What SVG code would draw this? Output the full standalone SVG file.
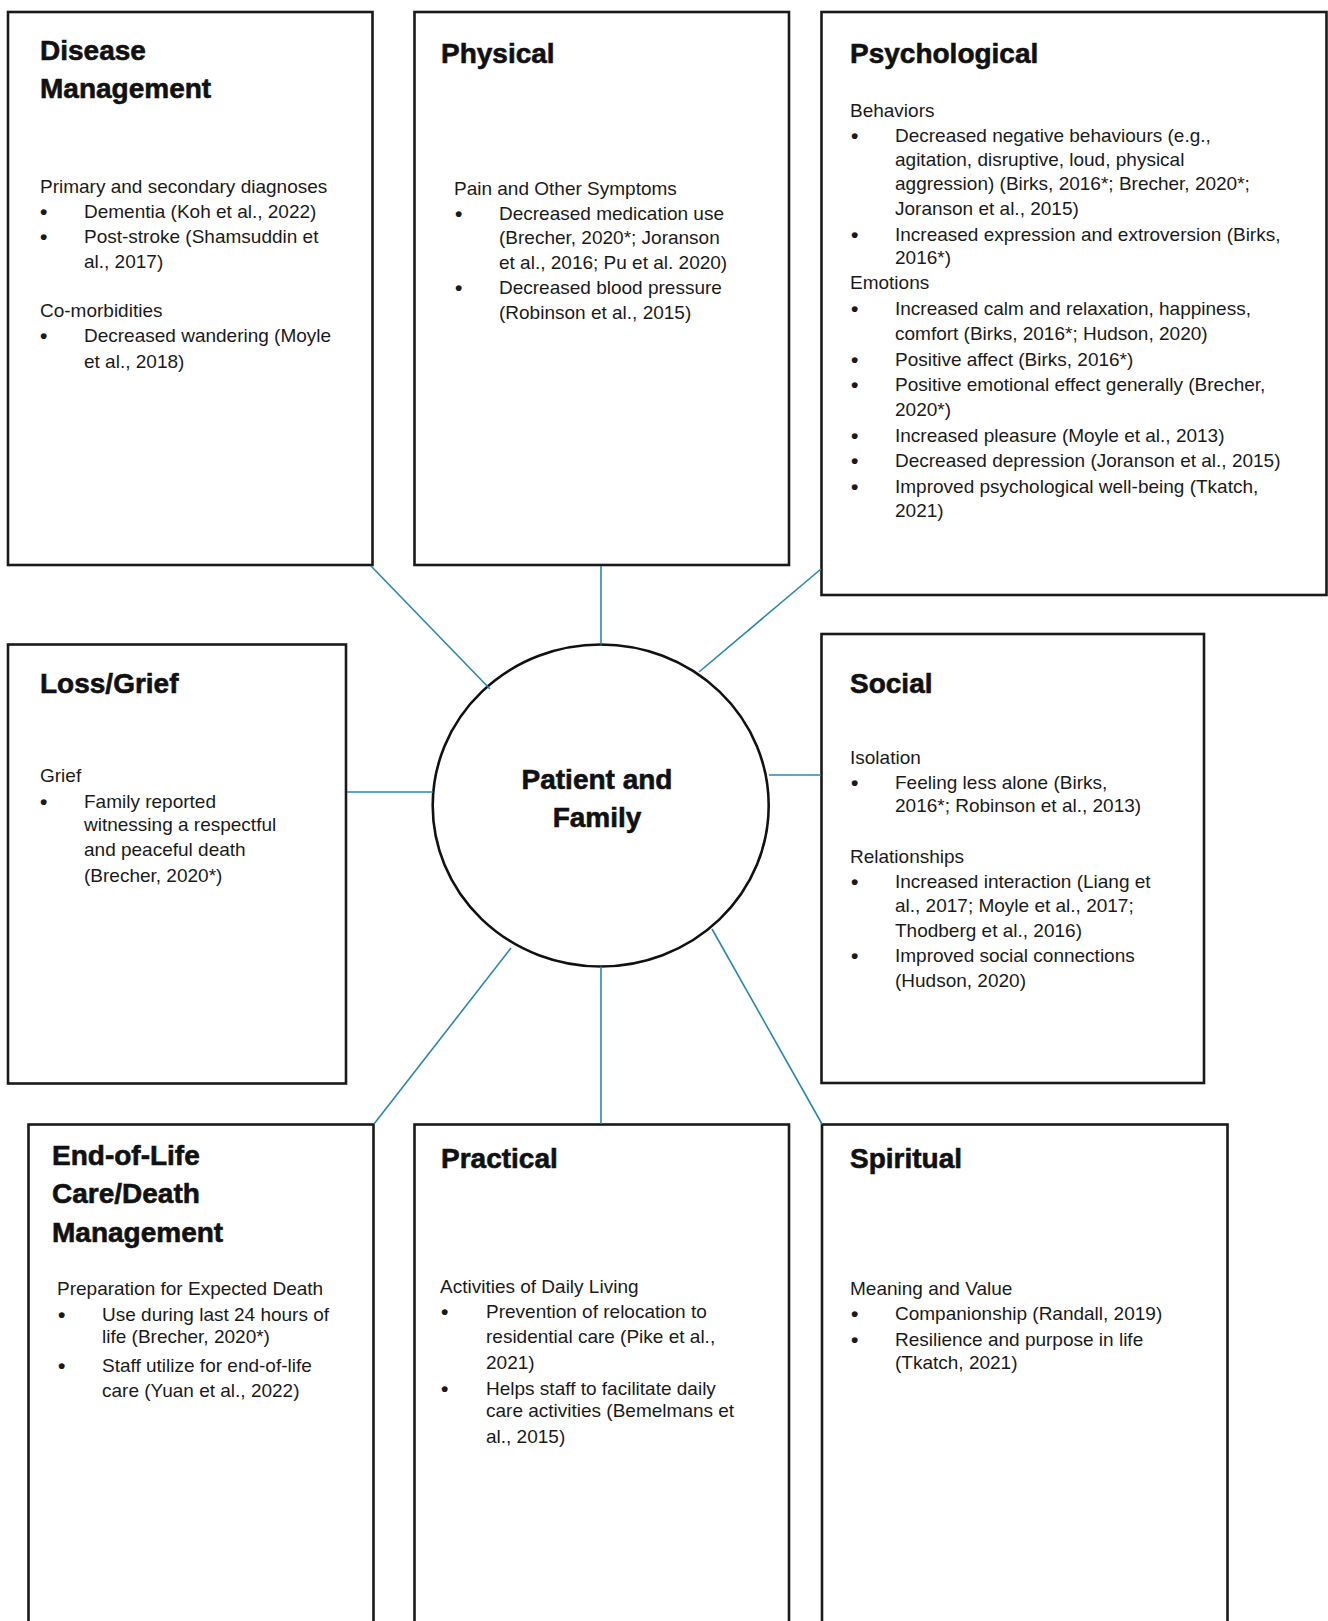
<svg xmlns="http://www.w3.org/2000/svg" width="1328" height="1621" viewBox="0 0 1328 1621">
<style>
.box{fill:#fff;stroke:#1a1a1a;stroke-width:2.6}
.hub{fill:#fff;stroke:#111;stroke-width:2.6}
.t{font-family:"Liberation Sans",Arial,sans-serif;font-weight:bold;font-size:28px;fill:#111;stroke:#111;stroke-width:0.6}
.b{font-family:"Liberation Sans",Arial,sans-serif;font-size:19px;fill:#1a1a1a}
.d{font-family:"Liberation Sans",Arial,sans-serif;font-size:21px;font-weight:bold;fill:#1a1a1a}
.c{font-family:"Liberation Sans",Arial,sans-serif;font-weight:bold;font-size:28px;fill:#111;stroke:#111;stroke-width:0.6;text-anchor:middle}
.con{stroke:#2a86ad;stroke-width:1.6;fill:none}
</style>
<rect width="1328" height="1621" fill="#fff"/>

<g id="disease-management">
<rect class="box" x="8" y="12" width="364.5" height="553"/>
<text class="t" x="40" y="60">Disease</text>
<text class="t" x="40" y="98">Management</text>
<text class="b" x="40" y="193">Primary and secondary diagnoses</text>
<text class="d" x="40" y="219">•</text><text class="b" x="84" y="218">Dementia (Koh et al., 2022)</text>
<text class="d" x="40" y="244">•</text><text class="b" x="84" y="243">Post-stroke (Shamsuddin et</text>
<text class="b" x="84" y="268">al., 2017)</text>
<text class="b" x="40" y="317">Co-morbidities</text>
<text class="d" x="40" y="343">•</text><text class="b" x="84" y="342">Decreased wandering (Moyle</text>
<text class="b" x="84" y="368">et al., 2018)</text>
</g>

<g id="physical">
<rect class="box" x="414.5" y="12" width="374.5" height="553"/>
<text class="t" x="441" y="63">Physical</text>
<text class="b" x="454" y="195">Pain and Other Symptoms</text>
<text class="d" x="455" y="221">•</text><text class="b" x="499" y="220">Decreased medication use</text>
<text class="b" x="499" y="244">(Brecher, 2020*; Joranson</text>
<text class="b" x="499" y="269">et al., 2016; Pu et al. 2020)</text>
<text class="d" x="455" y="295">•</text><text class="b" x="499" y="294">Decreased blood pressure</text>
<text class="b" x="499" y="319">(Robinson et al., 2015)</text>
</g>

<g id="psychological">
<rect class="box" x="821.5" y="12" width="505" height="583"/>
<text class="t" x="850" y="63">Psychological</text>
<text class="b" x="850" y="117">Behaviors</text>
<text class="d" x="851" y="143">•</text><text class="b" x="895" y="142">Decreased negative behaviours (e.g.,</text>
<text class="b" x="895" y="166">agitation, disruptive, loud, physical</text>
<text class="b" x="895" y="190">aggression) (Birks, 2016*; Brecher, 2020*;</text>
<text class="b" x="895" y="215">Joranson et al., 2015)</text>
<text class="d" x="851" y="242">•</text><text class="b" x="895" y="241">Increased expression and extroversion (Birks,</text>
<text class="b" x="895" y="264">2016*)</text>
<text class="b" x="850" y="289">Emotions</text>
<text class="d" x="851" y="316">•</text><text class="b" x="895" y="315">Increased calm and relaxation, happiness,</text>
<text class="b" x="895" y="340">comfort (Birks, 2016*; Hudson, 2020)</text>
<text class="d" x="851" y="367">•</text><text class="b" x="895" y="366">Positive affect (Birks, 2016*)</text>
<text class="d" x="851" y="392">•</text><text class="b" x="895" y="391">Positive emotional effect generally (Brecher,</text>
<text class="b" x="895" y="416">2020*)</text>
<text class="d" x="851" y="443">•</text><text class="b" x="895" y="442">Increased pleasure (Moyle et al., 2013)</text>
<text class="d" x="851" y="468">•</text><text class="b" x="895" y="467">Decreased depression (Joranson et al., 2015)</text>
<text class="d" x="851" y="494">•</text><text class="b" x="895" y="493">Improved psychological well-being (Tkatch,</text>
<text class="b" x="895" y="517">2021)</text>
</g>

<g id="loss-grief">
<rect class="box" x="8" y="644.5" width="338" height="439"/>
<text class="t" x="40" y="693">Loss/Grief</text>
<text class="b" x="40" y="782">Grief</text>
<text class="d" x="40" y="809">•</text><text class="b" x="84" y="808">Family reported</text>
<text class="b" x="84" y="831">witnessing a respectful</text>
<text class="b" x="84" y="856">and peaceful death</text>
<text class="b" x="84" y="882">(Brecher, 2020*)</text>
</g>

<g id="social">
<rect class="box" x="821.5" y="634" width="382.5" height="449"/>
<text class="t" x="850" y="693">Social</text>
<text class="b" x="850" y="764">Isolation</text>
<text class="d" x="851" y="790">•</text><text class="b" x="895" y="789">Feeling less alone (Birks,</text>
<text class="b" x="895" y="812">2016*; Robinson et al., 2013)</text>
<text class="b" x="850" y="863">Relationships</text>
<text class="d" x="851" y="889">•</text><text class="b" x="895" y="888">Increased interaction (Liang et</text>
<text class="b" x="895" y="912">al., 2017; Moyle et al., 2017;</text>
<text class="b" x="895" y="937">Thodberg et al., 2016)</text>
<text class="d" x="851" y="963">•</text><text class="b" x="895" y="962">Improved social connections</text>
<text class="b" x="895" y="987">(Hudson, 2020)</text>
</g>

<g id="end-of-life">
<rect class="box" x="28.5" y="1124.5" width="345" height="510"/>
<text class="t" x="52" y="1165">End-of-Life</text>
<text class="t" x="52" y="1203">Care/Death</text>
<text class="t" x="52" y="1242">Management</text>
<text class="b" x="57" y="1295">Preparation for Expected Death</text>
<text class="d" x="58" y="1322">•</text><text class="b" x="102" y="1321">Use during last 24 hours of</text>
<text class="b" x="102" y="1343">life (Brecher, 2020*)</text>
<text class="d" x="58" y="1373">•</text><text class="b" x="102" y="1372">Staff utilize for end-of-life</text>
<text class="b" x="102" y="1397">care (Yuan et al., 2022)</text>
</g>

<g id="practical">
<rect class="box" x="414.5" y="1124.5" width="374.5" height="510"/>
<text class="t" x="441" y="1168">Practical</text>
<text class="b" x="440" y="1293">Activities of Daily Living</text>
<text class="d" x="441" y="1319">•</text><text class="b" x="486" y="1318">Prevention of relocation to</text>
<text class="b" x="486" y="1343">residential care (Pike et al.,</text>
<text class="b" x="486" y="1369">2021)</text>
<text class="d" x="441" y="1396">•</text><text class="b" x="486" y="1395">Helps staff to facilitate daily</text>
<text class="b" x="486" y="1417">care activities (Bemelmans et</text>
<text class="b" x="486" y="1443">al., 2015)</text>
</g>

<g id="spiritual">
<rect class="box" x="822" y="1124.5" width="405.5" height="510"/>
<text class="t" x="850" y="1168">Spiritual</text>
<text class="b" x="850" y="1295">Meaning and Value</text>
<text class="d" x="851" y="1321">•</text><text class="b" x="895" y="1320">Companionship (Randall, 2019)</text>
<text class="d" x="851" y="1347">•</text><text class="b" x="895" y="1346">Resilience and purpose in life</text>
<text class="b" x="895" y="1369">(Tkatch, 2021)</text>
</g>

<g id="patient-and-family">
<ellipse class="hub" cx="600.7" cy="805.5" rx="168" ry="161"/>
<text class="c" x="597" y="789">Patient and</text>
<text class="c" x="597" y="827">Family</text>
</g>

<g id="connectors">
<line class="con" x1="371" y1="566" x2="490" y2="689"/>
<line class="con" x1="601" y1="566" x2="601" y2="644.5"/>
<line class="con" x1="821" y1="569" x2="699" y2="672"/>
<line class="con" x1="347" y1="792" x2="433" y2="792"/>
<line class="con" x1="769" y1="775" x2="821" y2="775"/>
<line class="con" x1="374" y1="1124" x2="511" y2="948"/>
<line class="con" x1="601" y1="966.5" x2="601" y2="1124"/>
<line class="con" x1="712" y1="929" x2="822" y2="1124"/>
</g>
</svg>
